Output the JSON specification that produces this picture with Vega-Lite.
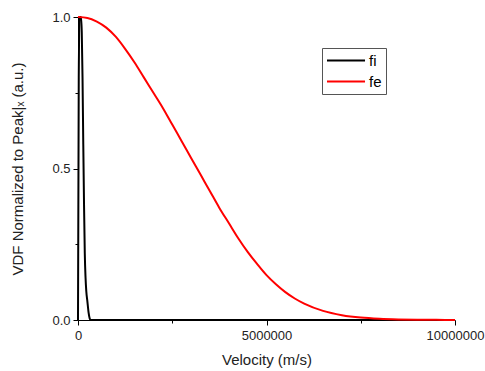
{
  "$schema": "https://vega.github.io/schema/vega-lite/v6.json",
  "width": 377,
  "height": 303,
  "autosize": {"type": "none"},
  "padding": {"left": 78, "top": 17, "right": 30, "bottom": 51},
  "background": "white",
  "config": {
    "view": {"stroke": null},
    "font": "Liberation Sans",
    "axis": {
      "grid": false,
      "domainColor": "#000000",
      "domainWidth": 1,
      "tickColor": "#000000",
      "tickWidth": 1,
      "labelColor": "#222222",
      "labelFontSize": 13,
      "labelFont": "Liberation Sans",
      "titleFont": "Liberation Sans",
      "titleFontSize": 15,
      "titleFontWeight": "normal",
      "titleColor": "#222222"
    }
  },
  "data": {
    "values": [
      {"v": 0, "f": 0, "s": "fi"},
      {"v": 20000, "f": 0.8, "s": "fi"},
      {"v": 40000, "f": 1.0, "s": "fi"},
      {"v": 80000, "f": 1.0, "s": "fi"},
      {"v": 100000, "f": 0.95, "s": "fi"},
      {"v": 120000, "f": 0.8, "s": "fi"},
      {"v": 140000, "f": 0.58, "s": "fi"},
      {"v": 160000, "f": 0.38, "s": "fi"},
      {"v": 180000, "f": 0.22, "s": "fi"},
      {"v": 200000, "f": 0.14, "s": "fi"},
      {"v": 220000, "f": 0.095, "s": "fi"},
      {"v": 250000, "f": 0.06, "s": "fi"},
      {"v": 280000, "f": 0.025, "s": "fi"},
      {"v": 310000, "f": 0.005, "s": "fi"},
      {"v": 330000, "f": 0, "s": "fi"},
      {"v": 10000000, "f": 0, "s": "fi"},
      {"v": 0, "f": 1.0, "s": "fe"},
      {"v": 250000, "f": 0.997, "s": "fe"},
      {"v": 500000, "f": 0.985, "s": "fe"},
      {"v": 750000, "f": 0.965, "s": "fe"},
      {"v": 1000000, "f": 0.935, "s": "fe"},
      {"v": 1250000, "f": 0.895, "s": "fe"},
      {"v": 1500000, "f": 0.85, "s": "fe"},
      {"v": 1750000, "f": 0.8, "s": "fe"},
      {"v": 2000000, "f": 0.75, "s": "fe"},
      {"v": 2250000, "f": 0.7, "s": "fe"},
      {"v": 2500000, "f": 0.645, "s": "fe"},
      {"v": 2750000, "f": 0.59, "s": "fe"},
      {"v": 3000000, "f": 0.535, "s": "fe"},
      {"v": 3250000, "f": 0.48, "s": "fe"},
      {"v": 3500000, "f": 0.425, "s": "fe"},
      {"v": 3750000, "f": 0.37, "s": "fe"},
      {"v": 4000000, "f": 0.32, "s": "fe"},
      {"v": 4250000, "f": 0.27, "s": "fe"},
      {"v": 4500000, "f": 0.225, "s": "fe"},
      {"v": 4750000, "f": 0.185, "s": "fe"},
      {"v": 5000000, "f": 0.148, "s": "fe"},
      {"v": 5250000, "f": 0.118, "s": "fe"},
      {"v": 5500000, "f": 0.092, "s": "fe"},
      {"v": 5750000, "f": 0.071, "s": "fe"},
      {"v": 6000000, "f": 0.054, "s": "fe"},
      {"v": 6500000, "f": 0.03, "s": "fe"},
      {"v": 7000000, "f": 0.016, "s": "fe"},
      {"v": 7500000, "f": 0.008, "s": "fe"},
      {"v": 8000000, "f": 0.004, "s": "fe"},
      {"v": 8500000, "f": 0.002, "s": "fe"},
      {"v": 9000000, "f": 0.001, "s": "fe"},
      {"v": 9500000, "f": 0.0005, "s": "fe"},
      {"v": 10000000, "f": 0.0002, "s": "fe"}
    ]
  },
  "mark": {"type": "line", "strokeWidth": 2, "interpolate": "monotone"},
  "encoding": {
    "x": {
      "field": "v",
      "type": "quantitative",
      "scale": {"domain": [0, 10000000], "nice": false},
      "axis": {
        "title": "Velocity (m/s)",
        "values": [0, 2500000, 5000000, 7500000, 10000000],
        "format": "d",
        "labelExpr": "datum.value == 2500000 || datum.value == 7500000 ? '' : datum.label",
        "tickSize": {"condition": {"test": "datum.value == 2500000 || datum.value == 7500000", "value": 3}, "value": 5},
        "labelPadding": 4,
        "titlePadding": 10,
        "labelFlush": false
      }
    },
    "y": {
      "field": "f",
      "type": "quantitative",
      "scale": {"domain": [0, 1], "nice": false},
      "axis": {
        "title": "VDF Normalized to Peak|ₓ (a.u.)",
        "values": [0, 0.25, 0.5, 0.75, 1],
        "format": ".1f",
        "labelExpr": "datum.value == 0.25 || datum.value == 0.75 ? '' : datum.label",
        "tickSize": {"condition": {"test": "datum.value == 0.25 || datum.value == 0.75", "value": 3}, "value": 5},
        "labelPadding": 3,
        "titlePadding": 26,
        "labelFlush": false
      }
    },
    "color": {
      "field": "s",
      "type": "nominal",
      "scale": {"domain": ["fi", "fe"], "range": ["#000000", "#ff0000"]},
      "legend": {
        "title": null,
        "orient": "none",
        "legendX": 244,
        "legendY": 31,
        "symbolType": "M-1,0H4.07",
        "symbolSize": 225,
        "symbolStrokeWidth": 2,
        "symbolFillColor": "transparent",
        "labelFontSize": 15,
        "labelFont": "Liberation Sans",
        "labelColor": "#000000",
        "labelOffset": 26,
        "strokeColor": "#555555",
        "padding": 4,
        "rowPadding": 4
      }
    }
  }
}
